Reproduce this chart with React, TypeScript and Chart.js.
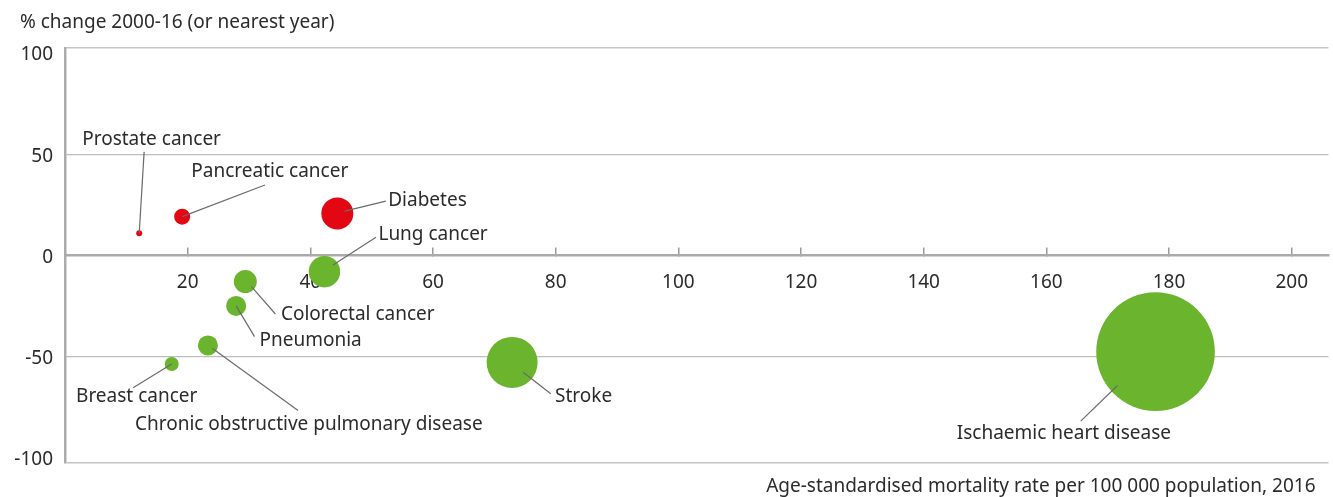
import React, { useEffect, useRef } from 'react';
import { Chart, registerables } from 'chart.js';

Chart.register(...registerables);

// ---- Data ----
const causes = [
  'Prostate cancer',
  'Pancreatic cancer',
  'Diabetes',
  'Lung cancer',
  'Colorectal cancer',
  'Pneumonia',
  'Chronic obstructive pulmonary disease',
  'Breast cancer',
  'Stroke',
  'Ischaemic heart disease',
];
// Age-standardised mortality rate per 100 000 population, 2016
const mortalityRate = [12.1, 19.1, 44.4, 42.3, 29.4, 27.9, 23.3, 17.4, 72.9, 177.8];
// % change 2000-16 (or nearest year)
const pctChange = [11.0, 19.2, 20.8, -8.0, -12.9, -24.9, -44.4, -53.6, -52.8, -47.5];
// bubble size (radius)
const bubbleSize = [3, 8, 16, 15.7, 11.5, 10, 10, 7, 25.5, 59.3];

const xTickValues = [20, 40, 60, 80, 100, 120, 140, 160, 180, 200];
const yTickValues = [-100, -50, 0, 50, 100];
const Y_MIN = -102.5;
const Y_MAX = 102.5;

const yTitle = '% change 2000-16 (or nearest year)';
const xTitle = 'Age-standardised mortality rate per 100 000 population, 2016';

// ---- Label placement (in data units): text anchor, leader start, leader end ----
const labelLayout = [
  { tx: 2.8, ty: 57.1, sx: 12.1, sy: 11.0, ex: 12.9, ey: 51.2 },
  { tx: 20.6, ty: 41.4, sx: 19.1, sy: 19.2, ex: 32.6, ey: 34.8 },
  { tx: 52.7, ty: 26.9, sx: 45.6, sy: 21.9, ex: 52.3, ey: 26.9 },
  { tx: 51.1, ty: 10.1, sx: 43.7, sy: -4.7, ex: 50.7, ey: 9.0 },
  { tx: 35.2, ty: -29.4, sx: 30.4, sy: -15.4, ex: 34.3, ey: -28.9 },
  { tx: 31.7, ty: -42.2, sx: 27.9, sy: -24.9, ex: 30.9, ey: -40.1 },
  { tx: 11.4, ty: -83.7, sx: 24.0, sy: -45.8, ex: 38.0, ey: -76.6 },
  { tx: 1.8, ty: -69.7, sx: 17.4, sy: -53.6, ex: 11.1, ey: -65.3 },
  { tx: 79.9, ty: -69.7, sx: 74.7, sy: -57.7, ex: 79.2, ey: -68.3 },
  { tx: 145.4, ty: -87.8, sx: 171.6, sy: -64.2, ex: 165.6, ey: -81.8 },
];

const RED = '#e30613';
const GREEN = '#6ab42e';
const TEXT = '#2b2b2b';
const FONT_FAMILY = '"Noto Sans", sans-serif';
const FONT_SIZE = 19;

const annotatePlugin = {
  id: 'annotate',
  afterDatasetsDraw(chart: any) {
    const { ctx, scales, chartArea } = chart;
    const x = scales.x;
    const y = scales.y;
    ctx.save();
    ctx.font = `${FONT_SIZE}px ${FONT_FAMILY}`;
    ctx.textBaseline = 'middle';
    labelLayout.forEach((l, i) => {
      ctx.strokeStyle = '#6b6b6b';
      ctx.lineWidth = 1.2;
      ctx.beginPath();
      ctx.moveTo(x.getPixelForValue(l.sx), y.getPixelForValue(l.sy));
      ctx.lineTo(x.getPixelForValue(l.ex), y.getPixelForValue(l.ey));
      ctx.stroke();
      ctx.fillStyle = TEXT;
      ctx.textAlign = 'left';
      ctx.fillText(causes[i], x.getPixelForValue(l.tx), y.getPixelForValue(l.ty));
    });
    ctx.fillStyle = TEXT;
    ctx.textAlign = 'left';
    ctx.fillText(yTitle, chartArea.left - 45, chartArea.top - 25);
    ctx.textAlign = 'right';
    ctx.fillText(xTitle, chartArea.right - 13, chartArea.bottom + 24);
    ctx.restore();
  },
};

export default function App() {
  const canvasRef = useRef<HTMLCanvasElement | null>(null);

  useEffect(() => {
    document.body.style.margin = '0';
    const canvas = canvasRef.current;
    if (!canvas) return;
    const chart = new Chart(canvas, {
      type: 'bubble',
      data: {
        datasets: [
          {
            label: 'Causes of death',
            data: causes.map((_, i) => ({ x: mortalityRate[i], y: pctChange[i], r: bubbleSize[i] })),
            backgroundColor: pctChange.map((v) => (v > 0 ? RED : GREEN)),
            borderWidth: 0,
            hoverBorderWidth: 0,
            hoverRadius: 0,
          },
        ],
      },
      options: {
        responsive: false,
        animation: false,
        events: [],
        layout: { autoPadding: false, padding: { top: 48, bottom: 34, left: 0, right: 0 } },
        plugins: {
          legend: { display: false },
          tooltip: { enabled: false },
          title: { display: false },
        },
        scales: {
          x: {
            type: 'linear',
            position: { y: 0 } as any,
            min: 0,
            max: 206,
            afterBuildTicks(scale: any) {
              scale.ticks = xTickValues.map((v) => ({ value: v }));
            },
            ticks: {
              color: TEXT,
              font: { family: FONT_FAMILY, size: FONT_SIZE },
              padding: 25,
              autoSkip: false,
              maxRotation: 0,
            },
            grid: {
              drawOnChartArea: false,
              drawTicks: true,
              tickLength: -9,
              color: '#9a9a9a',
              lineWidth: 1.5,
            },
            border: { display: true, color: '#ababab', width: 2.5 },
          },
          y: {
            type: 'linear',
            min: Y_MIN,
            max: Y_MAX,
            afterBuildTicks(scale: any) {
              scale.ticks = [Y_MIN, ...yTickValues, Y_MAX].map((v) => ({ value: v }));
            },
            afterFit(scale: any) {
              scale.width = 65;
            },
            ticks: {
              color: TEXT,
              font: { family: FONT_FAMILY, size: FONT_SIZE },
              padding: 12,
              labelOffset: 2,
              callback: (v: any) => (yTickValues.includes(Number(v)) ? String(v) : ''),
            },
            grid: {
              drawTicks: false,
              color: (c: any) => {
                const v = c.tick ? c.tick.value : null;
                if (v === 50 || v === -50) return '#bdbdbd';
                if (v === Y_MIN || v === Y_MAX) return '#c4c4c4';
                return 'rgba(0,0,0,0)';
              },
              lineWidth: (c: any) => {
                const v = c.tick ? c.tick.value : null;
                return v === Y_MIN || v === Y_MAX ? 1.5 : 1.2;
              },
            },
            border: { display: true, color: '#ababab', width: 2.5 },
          },
        },
      },
      plugins: [annotatePlugin],
    });
    return () => chart.destroy();
  }, []);

  return (
    <div style={{ width: 1333, height: 497 }}>
      <canvas ref={canvasRef} width={1333} height={497} />
    </div>
  );
}
